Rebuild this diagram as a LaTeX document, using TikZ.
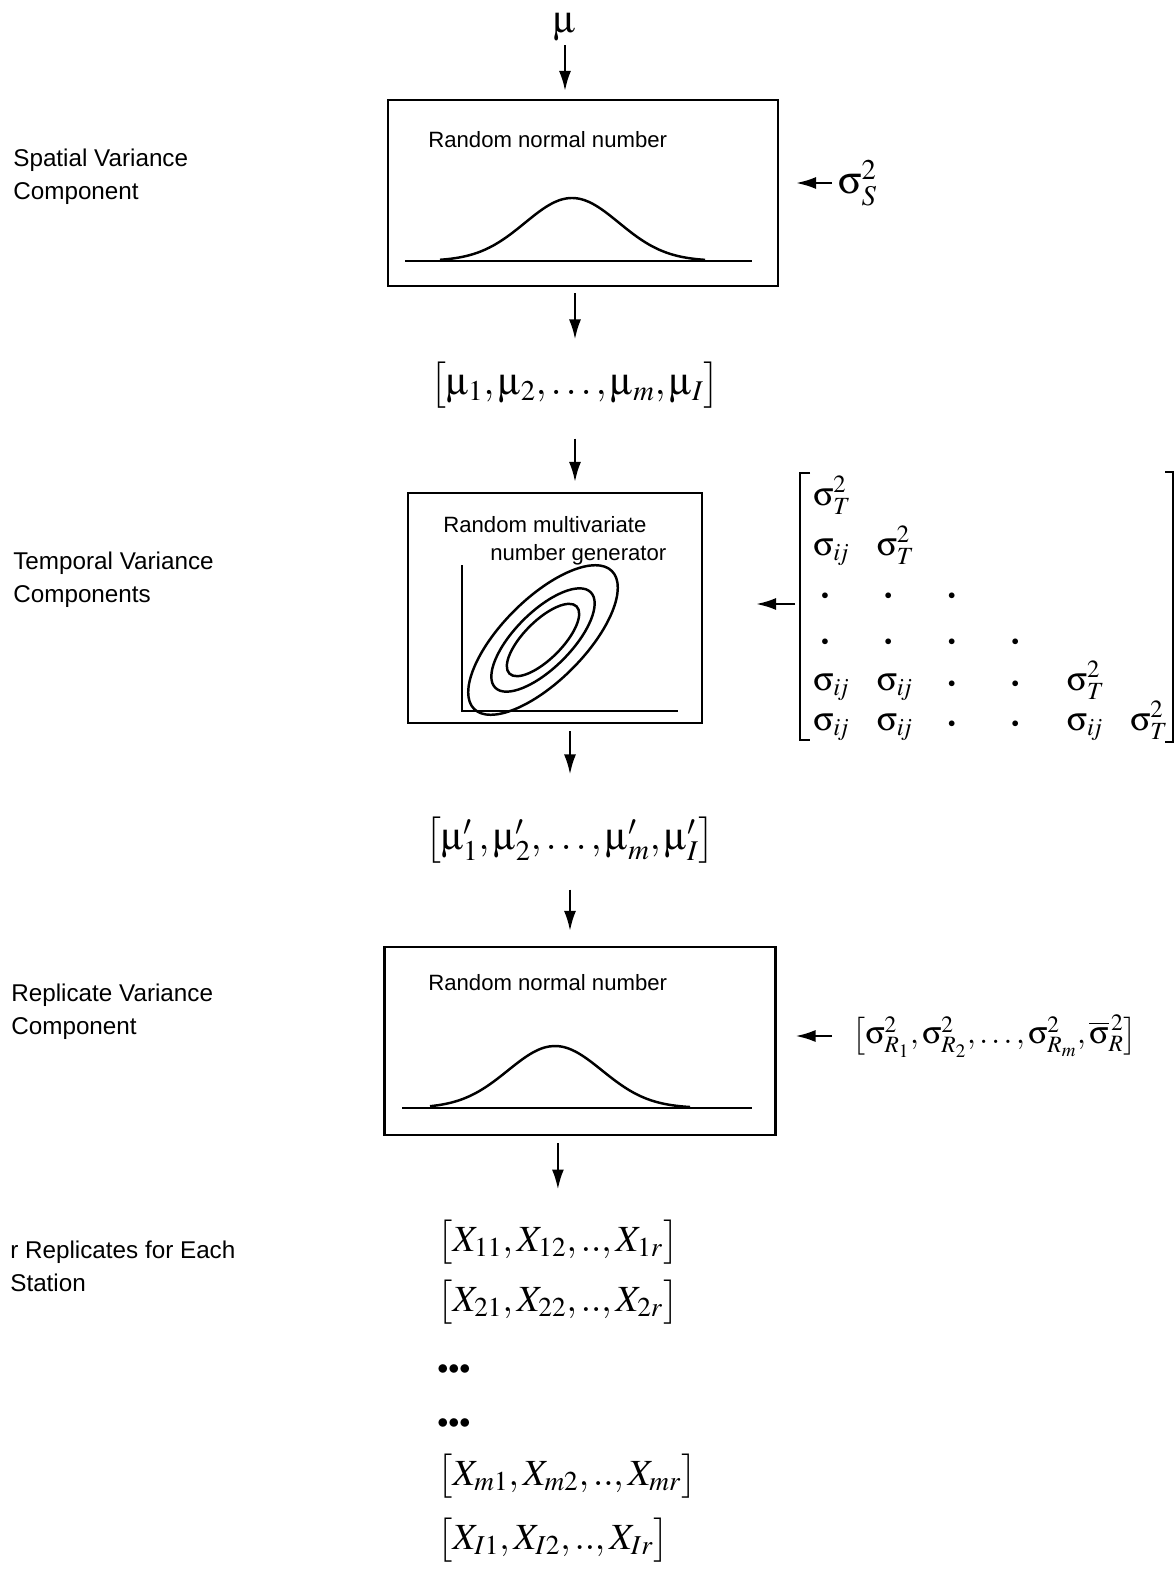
\documentclass[tikz,border=0pt]{standalone}
\usepackage{amsmath}
\usepackage{mathptmx}
\usepackage[Symbol]{upgreek}
\usepackage[no-math]{fontspec}
\setmainfont{Liberation Sans}
\usetikzlibrary{arrows.meta}

\tikzset{
  flow/.style={-{Latex[length=0.4cm,width=0.24cm]}, line width=1.4pt},
  box/.style={draw, line width=1.2pt, inner sep=0pt},
  curve/.style={line width=1.4pt},
  brk/.style={line width=1.1pt},
  lbl/.style={font=\fontsize{13.8}{18.7}\selectfont, align=left, anchor=north west, inner sep=0pt},
  boxtxt/.style={font=\fontsize{12.6}{14.7}\selectfont, anchor=north west, inner sep=0pt},
  bigmath/.style={font=\fontsize{22}{26}\selectfont, inner sep=0pt},
  matmath/.style={font=\fontsize{19}{23}\selectfont, inner sep=0pt},
  matdot/.style={font=\fontsize{14}{16}\selectfont, inner sep=0pt},
  xmath/.style={font=\fontsize{21}{25}\selectfont, inner sep=0pt},
}

\begin{document}
\begin{tikzpicture}[x=0.02cm, y=-0.02cm]
  \useasboundingbox (0,0) rectangle (1175,1572);
  % left labels
  \node[lbl] (lspat) at (13,149) {Spatial Variance\\Component};
  \node[lbl] (ltemp) at (13,552) {Temporal Variance\\Components};
  \node[lbl] (lrepl) at (11,984) {Replicate Variance\\Component};
  \node[lbl] (lrep) at (10,1241) {r Replicates for Each\\Station};

  % spatial step
  \node[bigmath, anchor=base] (mu) at (565,32) {$\upmu$};
  \node[box, minimum width=7.8cm, minimum height=3.72cm] (box1) at (583,193) {};
  \node[boxtxt] (txt1) at (428,131) {Random normal number};
  \draw[curve] (405,261) -- (752,261);
  \draw[curve] plot[domain=440:705, samples=60, smooth] (\x,{261-63*exp(-((\x-572)/47)*((\x-572)/47)/2)});
  \node[bigmath, anchor=west] (sigS) at (838,183) {$\upsigma_S^2$};
  \node[bigmath] (vec1) at (575,385) {$\bigl[\upmu_1, \upmu_2, \ldots, \upmu_m, \upmu_I\bigr]$};

  % temporal step
  \node[box, minimum width=5.88cm, minimum height=4.6cm] (box2) at (555,608) {};
  \node[boxtxt] (txt2a) at (443,516) {Random multivariate};
  \node[boxtxt] (txt2b) at (490,544) {number generator};
  \draw[curve] (462,565) -- (462,711) -- (678,711);
  \foreach \a/\b in {1.95/0.82, 1.35/0.56, 0.95/0.38}
    \draw[curve, rotate around={45:(543,640)}] (543,640) ellipse [x radius=\a cm, y radius=\b cm];
  % covariance matrix
  \foreach \r/\c/\y/\e in {1/1/505/\upsigma_T^2, 2/1/555/\upsigma_{i\!j}, 2/2/555/\upsigma_T^2,
      5/1/690/\upsigma_{i\!j}, 5/2/690/\upsigma_{i\!j}, 5/5/690/\upsigma_T^2,
      6/1/730/\upsigma_{i\!j}, 6/2/730/\upsigma_{i\!j}, 6/5/730/\upsigma_{i\!j}, 6/6/730/\upsigma_T^2}
    \node[matmath, anchor=base west] (m\r\c) at ({813+63.4*(\c-1)},\y) {$\e$};
  \foreach \r/\c/\y in {3/1/599, 3/2/599, 3/3/599, 4/1/645, 4/2/645, 4/3/645, 4/4/645,
      5/3/687, 5/4/687, 6/3/727, 6/4/727}
    \node[matdot, anchor=base] (m\r\c) at ({825+63.4*(\c-1)},\y) {$\scriptscriptstyle\bullet$};
  \draw[brk] (810,473) -- (800,473) -- (800,740) -- (810,740);
  \draw[brk] (1165,472) -- (1173,472) -- (1173,742) -- (1165,742);
  \coordinate (covL) at (800,604);
  \node[bigmath] (vec2) at (570,840) {$\bigl[\upmu'_1, \upmu'_2, \ldots, \upmu'_m, \upmu'_I\bigr]$};

  % replicate step
  \node[box, minimum width=7.82cm, minimum height=3.76cm] (box3) at (580,1041) {};
  \node[boxtxt] (txt3) at (428,974) {Random normal number};
  \draw[curve] (402,1108) -- (752,1108);
  \draw[curve] plot[domain=430:690, samples=60, smooth] (\x,{1108-62*exp(-((\x-555)/47)*((\x-555)/47)/2)});
  \node[matmath, anchor=west, font=\fontsize{18}{22}\selectfont] (sigR) at (852,1036) {$\bigl[\upsigma^2_{R_1},\upsigma^2_{R_2},\ldots,\upsigma^2_{R_m},\overline{\upsigma}^{\,2}_R\bigr]$};

  % replicates
  \node[xmath, anchor=west] (x1) at (437,1242) {$\bigl[X_{11}, X_{12},.., X_{1r}\bigr]$};
  \node[xmath, anchor=west] (x2) at (437,1302) {$\bigl[X_{21}, X_{22},.., X_{2r}\bigr]$};
  \node[xmath, anchor=base west] (xd1) at (437,1374) {$\scriptscriptstyle\bullet\bullet\bullet$};
  \node[xmath, anchor=base west] (xd2) at (437,1428) {$\scriptscriptstyle\bullet\bullet\bullet$};
  \node[xmath, anchor=west] (xm) at (437,1476) {$\bigl[X_{m1}, X_{m2},.., X_{mr}\bigr]$};
  \node[xmath, anchor=west] (xI) at (437,1540) {$\bigl[X_{I1}, X_{I2},.., X_{Ir}\bigr]$};

  % connectors
  \draw[flow, shorten <=0.08cm, shorten >=0.16cm] (mu) -- (mu |- box1.north);
  \draw[flow, shorten <=0.12cm, shorten >=0.34cm] (sigS.west) -- (sigS.west -| box1.east);
  \draw[flow, shorten <=0.12cm, shorten >=0.44cm] (vec1 |- box1.south) -- (vec1);
  \draw[flow, shorten <=0.6cm, shorten >=0.2cm] (vec1) -- (vec1 |- box2.north);
  \draw[flow, shorten <=0.1cm, shorten >=1.06cm] (covL) -- (covL -| box2.east);
  \draw[flow, shorten <=0.14cm, shorten >=0.84cm] (vec2 |- box2.south) -- (vec2);
  \draw[flow, shorten <=0.52cm, shorten >=0.3cm] (vec2) -- (vec2 |- box3.north);
  \draw[flow, shorten <=0.4cm, shorten >=0.38cm] (sigR.west) -- (sigR.west -| box3.east);
  \draw[flow, shorten <=0.14cm, shorten >=0.6cm] (x1 |- box3.south) -- (x1);
\end{tikzpicture}
\end{document}
